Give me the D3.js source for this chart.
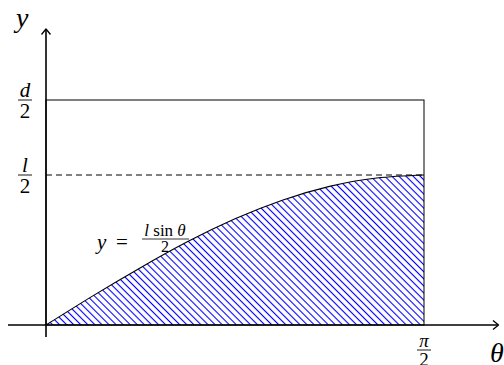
<!DOCTYPE html>
<html>
<head>
<meta charset="utf-8">
<script src="https://cdn.jsdelivr.net/npm/d3@7"></script>
<style>
  body { margin: 0; background: #fff; }
</style>
</head>
<body>
<script>
const W = 504, H = 365;
const FONT = 'Liberation Serif';

// curve samples (theta in multiples of pi/16, l = 1)
const thetaVals = [0, Math.PI/16, Math.PI/8, 3*Math.PI/16, Math.PI/4, 5*Math.PI/16, 3*Math.PI/8, 7*Math.PI/16, Math.PI/2];
const yVals = [0, 0.098, 0.191, 0.278, 0.354, 0.416, 0.462, 0.490, 0.5];
const halfL = 0.5;   // l/2
const halfD = 0.75;  // d/2
const thetaMax = Math.PI / 2;

const x = d3.scaleLinear().domain([0, thetaMax]).range([46, 424]);
const y = d3.scaleLinear().domain([0, halfD]).range([325, 100]);

const points = thetaVals.map((t, i) => ({ t: t, v: yVals[i] }));

const svg = d3.select('body')
  .append('svg')
    .attr('width', W)
    .attr('height', H)
    .attr('font-family', FONT);

const defs = svg.append('defs');
defs.append('pattern')
    .attr('id', 'hatch')
    .attr('patternUnits', 'userSpaceOnUse')
    .attr('width', 5)
    .attr('height', 5)
    .attr('patternTransform', 'rotate(45)')
  .append('line')
    .attr('x1', 0).attr('y1', 2.5)
    .attr('x2', 5).attr('y2', 2.5)
    .attr('stroke', '#0000ff')
    .attr('stroke-width', 1.1);

// hatched region under the curve
svg.append('path')
    .datum(points)
    .attr('fill', 'url(#hatch)')
    .attr('d', d3.area().x(d => x(d.t)).y0(y(0)).y1(d => y(d.v)).curve(d3.curveNatural));

// rectangle 0..pi/2 x 0..d/2
svg.append('rect')
    .attr('x', x(0))
    .attr('y', y(halfD))
    .attr('width', x(thetaMax) - x(0))
    .attr('height', y(0) - y(halfD))
    .attr('fill', 'none')
    .attr('stroke', '#000')
    .attr('stroke-width', 1);

// dashed line at l/2
svg.append('line')
    .attr('x1', x(0)).attr('x2', x(thetaMax))
    .attr('y1', y(halfL)).attr('y2', y(halfL))
    .attr('stroke', '#000')
    .attr('stroke-width', 1)
    .attr('stroke-dasharray', '6,4');

// the curve
svg.append('path')
    .datum(points)
    .attr('fill', 'none')
    .attr('stroke', '#000')
    .attr('stroke-width', 1.1)
    .attr('d', d3.line().x(d => x(d.t)).y(d => y(d.v)).curve(d3.curveNatural));

// axes
const axes = svg.append('g').attr('stroke', '#000').attr('fill', 'none');
axes.append('line')
    .attr('x1', 8).attr('x2', 498)
    .attr('y1', y(0)).attr('y2', y(0))
    .attr('stroke-width', 1.6);
axes.append('line')
    .attr('x1', x(0)).attr('x2', x(0))
    .attr('y1', 337).attr('y2', 29)
    .attr('stroke-width', 1.6);
axes.append('path')
    .attr('d', `M493,${y(0) - 4.5} L498.5,${y(0)} L493,${y(0) + 4.5}`)
    .attr('stroke-width', 1.3)
    .attr('stroke-linejoin', 'round');
axes.append('path')
    .attr('d', `M${x(0) - 4.5},34.5 L${x(0)},29 L${x(0) + 4.5},34.5`)
    .attr('stroke-width', 1.3)
    .attr('stroke-linejoin', 'round');

// fraction helper
function fraction(cx, cy, num, den, size, numItalic) {
  const g = svg.append('g');
  g.append('text')
      .attr('x', cx).attr('y', cy - 3.5)
      .attr('text-anchor', 'middle')
      .attr('font-size', size)
      .attr('font-style', numItalic ? 'italic' : null)
      .text(num);
  g.append('text')
      .attr('x', cx).attr('y', cy + 3.5 + size * 0.67)
      .attr('text-anchor', 'middle')
      .attr('font-size', size)
      .text(den);
  g.append('line')
      .attr('x1', cx - 7).attr('x2', cx + 7)
      .attr('y1', cy).attr('y2', cy)
      .attr('stroke', '#000')
      .attr('stroke-width', 0.9);
  return g;
}

fraction(25, y(halfD), 'd', '2', 21, true);
fraction(25, y(halfL), 'l', '2', 21, true);
fraction(x(thetaMax), 350, 'π', '2', 19, true);

svg.append('text')
    .attr('font-style', 'italic')
    .attr('x', 16).attr('y', 27)
    .attr('font-size', 28)
    .text('y');
svg.append('text')
    .attr('font-style', 'italic')
    .attr('x', 490).attr('y', 362)
    .attr('font-size', 28)
    .text('θ');

// curve label
svg.append('text')
    .attr('font-style', 'italic')
    .attr('x', 97).attr('y', 249)
    .attr('font-size', 21)
    .text('y');
svg.append('text')
    .attr('x', 116).attr('y', 249)
    .attr('font-size', 21)
    .text('=');
const lab = svg.append('g');
lab.append('text')
    .attr('x', 165).attr('y', 236)
    .attr('text-anchor', 'middle')
    .attr('font-size', 17)
    .html('<tspan font-style="italic">l</tspan> sin <tspan font-style="italic">θ</tspan>');
lab.append('line')
    .attr('x1', 142).attr('x2', 189)
    .attr('y1', 239).attr('y2', 239)
    .attr('stroke', '#000')
    .attr('stroke-width', 0.8);
lab.append('text')
    .attr('x', 165).attr('y', 252)
    .attr('text-anchor', 'middle')
    .attr('font-size', 16)
    .text('2');
</script>
</body>
</html>
